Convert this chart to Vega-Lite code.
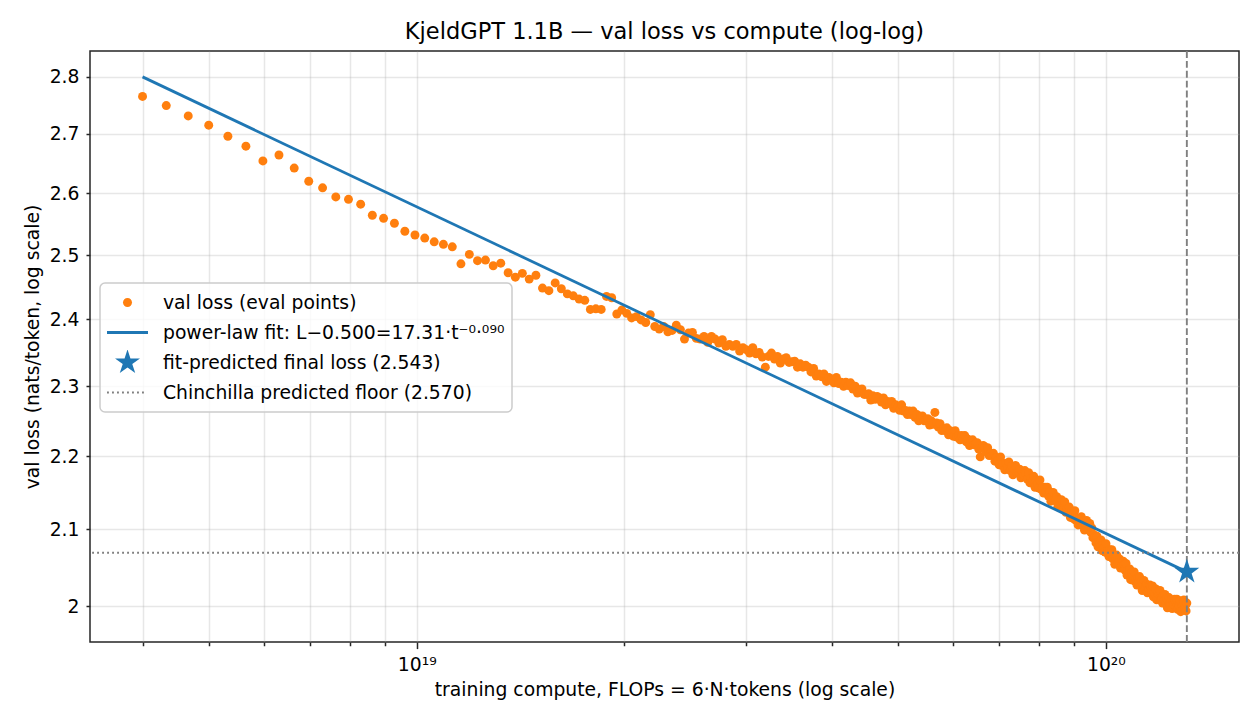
{
  "$schema": "https://vega.github.io/schema/vega-lite/v6.json",
  "width": 1149,
  "height": 591,
  "autosize": {"type": "none"},
  "padding": {"left": 90, "top": 51, "right": 21, "bottom": 86},
  "background": "white",
  "title": {
    "text": "KjeldGPT 1.1B — val loss vs compute (log-log)",
    "font": "DejaVu Sans", "fontSize": 22.5, "fontWeight": "normal", "color": "black",
    "baseline": "alphabetic", "offset": 11, "dy": 22
  },
  "config": {
    "font": "DejaVu Sans",
    "view": {"stroke": "#262626", "strokeWidth": 1.5},
    "axis": {
      "labelFont": "DejaVu Sans", "labelFontSize": 18.75, "labelColor": "black",
      "titleFont": "DejaVu Sans", "titleFontSize": 18.75, "titleFontWeight": "normal", "titleColor": "black",
      "domain": false, "tickColor": "#262626", "tickWidth": 1.5,
      "gridColor": "#b0b0b0", "gridOpacity": 0.3, "gridWidth": 1.5
    },
    "legend": {
      "fillColor": "rgba(255,255,255,0.8)", "strokeColor": "#cccccc", "strokeWidth": 1.5, "cornerRadius": 5,
      "padding": 7, "rowPadding": 5, "labelOffset": 15, "clipHeight": 25,
      "labelFont": "DejaVu Sans", "labelFontSize": 18.75, "labelColor": "black", "labelLimit": 600,
      "symbolSize": 1681, "symbolStrokeWidth": 0, "symbolOpacity": 1
    }
  },
  "layer": [
    {
      "data": {"values": [
        {"c":4.00e18,"l":2.765},{"c":4.33e18,"l":2.749},{"c":4.66e18,"l":2.731},{"c":4.99e18,"l":2.715},{"c":5.32e18,"l":2.696},
        {"c":5.65e18,"l":2.679},{"c":5.98e18,"l":2.654},{"c":6.31e18,"l":2.664},{"c":6.64e18,"l":2.642},{"c":6.97e18,"l":2.620},
        {"c":7.30e18,"l":2.609},{"c":7.63e18,"l":2.594},{"c":7.96e18,"l":2.590},{"c":8.29e18,"l":2.582},{"c":8.62e18,"l":2.564},
        {"c":8.95e18,"l":2.559},{"c":9.28e18,"l":2.551},{"c":9.61e18,"l":2.538},{"c":9.94e18,"l":2.532},{"c":10.27e18,"l":2.527},
        {"c":10.60e18,"l":2.521},{"c":10.93e18,"l":2.517},{"c":11.26e18,"l":2.513},{"c":11.59e18,"l":2.486},{"c":11.92e18,"l":2.501},
        {"c":12.25e18,"l":2.491},{"c":12.58e18,"l":2.492},{"c":12.91e18,"l":2.483},{"c":13.24e18,"l":2.487},{"c":13.57e18,"l":2.472},
        {"c":13.90e18,"l":2.465},{"c":14.23e18,"l":2.471},{"c":14.56e18,"l":2.462},{"c":14.89e18,"l":2.468},{"c":15.22e18,"l":2.448},
        {"c":15.55e18,"l":2.444},{"c":15.88e18,"l":2.456},{"c":16.21e18,"l":2.447},{"c":16.54e18,"l":2.439},{"c":16.87e18,"l":2.436},
        {"c":17.20e18,"l":2.431},{"c":17.53e18,"l":2.429},{"c":17.86e18,"l":2.415},{"c":18.19e18,"l":2.416},{"c":18.52e18,"l":2.415},
        {"c":18.85e18,"l":2.435},{"c":19.18e18,"l":2.433},{"c":19.51e18,"l":2.408},{"c":19.84e18,"l":2.414},{"c":20.17e18,"l":2.409},
        {"c":20.50e18,"l":2.402},{"c":20.83e18,"l":2.404},{"c":21.16e18,"l":2.399},{"c":21.49e18,"l":2.395},{"c":21.82e18,"l":2.407},
        {"c":22.15e18,"l":2.389},{"c":22.48e18,"l":2.385},{"c":22.81e18,"l":2.389},{"c":23.14e18,"l":2.381},{"c":23.47e18,"l":2.383},
        {"c":23.80e18,"l":2.391},{"c":24.13e18,"l":2.384},{"c":24.46e18,"l":2.370},{"c":24.79e18,"l":2.379},{"c":25.12e18,"l":2.380},
        {"c":25.45e18,"l":2.371},{"c":25.78e18,"l":2.370},{"c":26.11e18,"l":2.374},{"c":26.44e18,"l":2.365},{"c":26.77e18,"l":2.374},
        {"c":27.10e18,"l":2.370},{"c":27.43e18,"l":2.364},{"c":27.76e18,"l":2.369},{"c":28.09e18,"l":2.359},{"c":28.42e18,"l":2.362},
        {"c":28.75e18,"l":2.359},{"c":29.08e18,"l":2.362},{"c":29.41e18,"l":2.352},{"c":29.74e18,"l":2.357},{"c":30.07e18,"l":2.354},
        {"c":30.40e18,"l":2.349},{"c":30.73e18,"l":2.357},{"c":31.06e18,"l":2.348},{"c":31.39e18,"l":2.350},{"c":31.72e18,"l":2.343},
        {"c":32.05e18,"l":2.328},{"c":32.38e18,"l":2.344},{"c":32.71e18,"l":2.349},{"c":33.04e18,"l":2.340},{"c":33.37e18,"l":2.344},
        {"c":33.70e18,"l":2.334},{"c":34.03e18,"l":2.340},{"c":34.36e18,"l":2.342},{"c":34.69e18,"l":2.335},{"c":35.02e18,"l":2.336},
        {"c":35.35e18,"l":2.337},{"c":35.68e18,"l":2.328},{"c":36.01e18,"l":2.333},{"c":36.34e18,"l":2.328},{"c":36.67e18,"l":2.331},
        {"c":37.00e18,"l":2.328},{"c":37.33e18,"l":2.321},{"c":37.66e18,"l":2.326},{"c":37.99e18,"l":2.315},{"c":38.32e18,"l":2.318},
        {"c":38.65e18,"l":2.314},{"c":38.98e18,"l":2.318},{"c":39.31e18,"l":2.307},{"c":39.64e18,"l":2.313},{"c":39.97e18,"l":2.309},
        {"c":40.30e18,"l":2.305},{"c":40.63e18,"l":2.313},{"c":40.96e18,"l":2.304},{"c":41.29e18,"l":2.306},{"c":41.62e18,"l":2.300},
        {"c":41.95e18,"l":2.306},{"c":42.28e18,"l":2.301},{"c":42.61e18,"l":2.305},{"c":42.94e18,"l":2.296},{"c":43.27e18,"l":2.300},
        {"c":43.60e18,"l":2.290},{"c":43.93e18,"l":2.295},{"c":44.26e18,"l":2.296},{"c":44.59e18,"l":2.288},{"c":44.92e18,"l":2.288},
        {"c":45.25e18,"l":2.289},{"c":45.58e18,"l":2.280},{"c":45.91e18,"l":2.286},{"c":46.24e18,"l":2.281},{"c":46.57e18,"l":2.285},
        {"c":46.90e18,"l":2.283},{"c":47.23e18,"l":2.277},{"c":47.56e18,"l":2.283},{"c":47.89e18,"l":2.273},{"c":48.22e18,"l":2.278},
        {"c":48.55e18,"l":2.275},{"c":48.88e18,"l":2.278},{"c":49.21e18,"l":2.268},{"c":49.54e18,"l":2.273},{"c":49.87e18,"l":2.270},
        {"c":50.20e18,"l":2.265},{"c":50.53e18,"l":2.273},{"c":50.86e18,"l":2.264},{"c":51.19e18,"l":2.265},{"c":51.52e18,"l":2.259},
        {"c":51.85e18,"l":2.264},{"c":52.18e18,"l":2.259},{"c":52.51e18,"l":2.264},{"c":52.84e18,"l":2.255},{"c":53.17e18,"l":2.259},
        {"c":53.50e18,"l":2.250},{"c":53.83e18,"l":2.255},{"c":54.16e18,"l":2.257},{"c":54.49e18,"l":2.250},{"c":54.82e18,"l":2.251},
        {"c":55.15e18,"l":2.253},{"c":55.48e18,"l":2.244},{"c":55.81e18,"l":2.250},{"c":56.14e18,"l":2.245},{"c":56.47e18,"l":2.262},
        {"c":56.80e18,"l":2.247},{"c":57.13e18,"l":2.241},{"c":57.46e18,"l":2.246},{"c":57.79e18,"l":2.236},{"c":58.12e18,"l":2.239},
        {"c":58.45e18,"l":2.236},{"c":58.78e18,"l":2.240},{"c":59.11e18,"l":2.230},{"c":59.44e18,"l":2.236},{"c":59.77e18,"l":2.232},
        {"c":60.10e18,"l":2.228},{"c":60.43e18,"l":2.236},{"c":60.76e18,"l":2.227},{"c":61.09e18,"l":2.229},{"c":61.42e18,"l":2.223},
        {"c":61.75e18,"l":2.229},{"c":62.08e18,"l":2.224},{"c":62.41e18,"l":2.229},{"c":62.74e18,"l":2.220},{"c":63.07e18,"l":2.224},
        {"c":63.40e18,"l":2.215},{"c":63.73e18,"l":2.221},{"c":64.06e18,"l":2.223},{"c":64.39e18,"l":2.216},{"c":64.72e18,"l":2.217},
        {"c":65.05e18,"l":2.219},{"c":65.38e18,"l":2.210},{"c":65.71e18,"l":2.199},{"c":66.04e18,"l":2.211},{"c":66.37e18,"l":2.215},
        {"c":66.70e18,"l":2.213},{"c":67.03e18,"l":2.206},{"c":67.36e18,"l":2.212},{"c":67.69e18,"l":2.201},{"c":68.02e18,"l":2.204},
        {"c":68.35e18,"l":2.201},{"c":68.68e18,"l":2.204},{"c":69.01e18,"l":2.193},{"c":69.34e18,"l":2.198},{"c":69.67e18,"l":2.194},
        {"c":70.00e18,"l":2.188},{"c":70.33e18,"l":2.199},{"c":70.66e18,"l":2.187},{"c":70.99e18,"l":2.190},{"c":71.32e18,"l":2.181},
        {"c":71.65e18,"l":2.190},{"c":71.98e18,"l":2.184},{"c":72.31e18,"l":2.192},{"c":72.64e18,"l":2.180},{"c":72.97e18,"l":2.186},
        {"c":73.30e18,"l":2.174},{"c":73.63e18,"l":2.182},{"c":73.96e18,"l":2.187},{"c":74.29e18,"l":2.177},{"c":74.62e18,"l":2.179},
        {"c":74.95e18,"l":2.182},{"c":75.28e18,"l":2.170},{"c":75.61e18,"l":2.179},{"c":75.94e18,"l":2.174},{"c":76.27e18,"l":2.180},
        {"c":76.60e18,"l":2.176},{"c":76.93e18,"l":2.168},{"c":77.26e18,"l":2.177},{"c":77.59e18,"l":2.163},{"c":77.92e18,"l":2.169},
        {"c":78.25e18,"l":2.166},{"c":78.58e18,"l":2.172},{"c":78.91e18,"l":2.157},{"c":79.24e18,"l":2.166},{"c":79.57e18,"l":2.161},
        {"c":79.90e18,"l":2.156},{"c":80.23e18,"l":2.167},{"c":80.56e18,"l":2.154},{"c":80.89e18,"l":2.157},{"c":81.22e18,"l":2.149},
        {"c":81.55e18,"l":2.157},{"c":81.88e18,"l":2.151},{"c":82.21e18,"l":2.157},{"c":82.54e18,"l":2.145},{"c":82.87e18,"l":2.151},
        {"c":83.20e18,"l":2.138},{"c":83.53e18,"l":2.146},{"c":83.86e18,"l":2.150},{"c":84.19e18,"l":2.139},{"c":84.52e18,"l":2.141},
        {"c":84.85e18,"l":2.144},{"c":85.18e18,"l":2.131},{"c":85.51e18,"l":2.140},{"c":85.84e18,"l":2.134},{"c":86.17e18,"l":2.140},
        {"c":86.50e18,"l":2.137},{"c":86.83e18,"l":2.128},{"c":87.16e18,"l":2.137},{"c":87.49e18,"l":2.123},{"c":87.82e18,"l":2.128},
        {"c":88.15e18,"l":2.125},{"c":88.48e18,"l":2.130},{"c":88.81e18,"l":2.116},{"c":89.14e18,"l":2.124},{"c":89.47e18,"l":2.119},
        {"c":89.80e18,"l":2.114},{"c":90.13e18,"l":2.125},{"c":90.46e18,"l":2.112},{"c":90.79e18,"l":2.115},{"c":91.12e18,"l":2.106},
        {"c":91.45e18,"l":2.115},{"c":91.78e18,"l":2.109},{"c":92.11e18,"l":2.117},{"c":92.44e18,"l":2.105},{"c":92.77e18,"l":2.111},
        {"c":93.10e18,"l":2.099},{"c":93.43e18,"l":2.108},{"c":93.76e18,"l":2.112},{"c":94.09e18,"l":2.103},{"c":94.42e18,"l":2.105},
        {"c":94.75e18,"l":2.108},{"c":95.08e18,"l":2.096},{"c":95.41e18,"l":2.102},{"c":95.74e18,"l":2.089},{"c":96.07e18,"l":2.093},
        {"c":96.40e18,"l":2.090},{"c":96.73e18,"l":2.082},{"c":97.06e18,"l":2.091},{"c":97.39e18,"l":2.077},{"c":97.72e18,"l":2.084},
        {"c":98.05e18,"l":2.081},{"c":98.38e18,"l":2.086},{"c":98.71e18,"l":2.072},{"c":99.04e18,"l":2.080},{"c":99.37e18,"l":2.076},
        {"c":99.70e18,"l":2.070},{"c":100.03e18,"l":2.081},{"c":100.36e18,"l":2.069},{"c":100.69e18,"l":2.072},{"c":101.02e18,"l":2.064},
        {"c":101.35e18,"l":2.073},{"c":101.68e18,"l":2.066},{"c":102.01e18,"l":2.073},{"c":102.34e18,"l":2.061},{"c":102.67e18,"l":2.066},
        {"c":103.00e18,"l":2.054},{"c":103.33e18,"l":2.062},{"c":103.66e18,"l":2.066},{"c":103.99e18,"l":2.056},{"c":104.32e18,"l":2.058},
        {"c":104.65e18,"l":2.061},{"c":104.98e18,"l":2.049},{"c":105.31e18,"l":2.057},{"c":105.64e18,"l":2.052},{"c":105.97e18,"l":2.058},
        {"c":106.30e18,"l":2.054},{"c":106.63e18,"l":2.046},{"c":106.96e18,"l":2.055},{"c":107.29e18,"l":2.040},{"c":107.62e18,"l":2.046},
        {"c":107.95e18,"l":2.043},{"c":108.28e18,"l":2.048},{"c":108.61e18,"l":2.034},{"c":108.94e18,"l":2.043},{"c":109.27e18,"l":2.039},
        {"c":109.60e18,"l":2.033},{"c":109.93e18,"l":2.044},{"c":110.26e18,"l":2.032},{"c":110.59e18,"l":2.035},{"c":110.92e18,"l":2.027},
        {"c":111.25e18,"l":2.036},{"c":111.58e18,"l":2.030},{"c":111.91e18,"l":2.038},{"c":112.24e18,"l":2.026},{"c":112.57e18,"l":2.032},
        {"c":112.90e18,"l":2.020},{"c":113.23e18,"l":2.028},{"c":113.56e18,"l":2.033},{"c":113.89e18,"l":2.023},{"c":114.22e18,"l":2.025},
        {"c":114.55e18,"l":2.028},{"c":114.88e18,"l":2.017},{"c":115.21e18,"l":2.026},{"c":115.54e18,"l":2.021},{"c":115.87e18,"l":2.027},
        {"c":116.20e18,"l":2.025},{"c":116.53e18,"l":2.017},{"c":116.86e18,"l":2.026},{"c":117.19e18,"l":2.012},{"c":117.52e18,"l":2.018},
        {"c":117.85e18,"l":2.016},{"c":118.18e18,"l":2.022},{"c":118.51e18,"l":2.008},{"c":118.84e18,"l":2.017},{"c":119.17e18,"l":2.014},
        {"c":119.50e18,"l":2.009},{"c":119.83e18,"l":2.020},{"c":120.16e18,"l":2.008},{"c":120.49e18,"l":2.011},{"c":120.82e18,"l":2.004},
        {"c":121.15e18,"l":2.013},{"c":121.48e18,"l":2.007},{"c":121.81e18,"l":2.015},{"c":122.14e18,"l":2.003},{"c":122.47e18,"l":2.010},
        {"c":122.80e18,"l":1.998},{"c":123.13e18,"l":2.007},{"c":123.46e18,"l":2.011},{"c":123.79e18,"l":2.002},{"c":124.12e18,"l":2.004},
        {"c":124.45e18,"l":2.008},{"c":124.78e18,"l":1.997},{"c":125.11e18,"l":2.006},{"c":125.44e18,"l":2.002},{"c":125.77e18,"l":2.009},
        {"c":126.10e18,"l":2.007},{"c":126.43e18,"l":1.999},{"c":126.76e18,"l":2.009},{"c":127.09e18,"l":1.996},{"c":127.42e18,"l":2.003},
        {"c":127.75e18,"l":2.000},{"c":128.08e18,"l":2.007},{"c":128.41e18,"l":1.993},{"c":128.74e18,"l":2.003},{"c":129.07e18,"l":2.000},
        {"c":129.40e18,"l":1.996},{"c":129.73e18,"l":2.008},{"c":130.06e18,"l":1.997},{"c":130.39e18,"l":2.001},{"c":130.72e18,"l":1.994},
        {"c":131.05e18,"l":2.004}
      ]},
      "mark": {"type": "circle", "size": 80, "opacity": 1},
      "encoding": {
        "x": {
          "field": "c", "type": "quantitative",
          "scale": {"type": "log", "domain": [3.356e18, 1.56e20], "nice": false},
          "axis": {
            "title": "training compute, FLOPs = 6·N·tokens (log scale)",
            "values": [4e18, 5e18, 6e18, 7e18, 8e18, 9e18, 1e19, 2e19, 3e19, 4e19, 5e19, 6e19, 7e19, 8e19, 9e19, 1e20],
            "labelExpr": "datum.value === 1e19 ? '10¹⁹' : datum.value === 1e20 ? '10²⁰' : ''",
            "labelOverlap": false, "labelFlush": false,
            "tickSize": {"condition": {"test": "datum.value === 1e19 || datum.value === 1e20", "value": 6.6}, "value": 3.75},
            "labelPadding": 6.6, "titlePadding": 7, "grid": true
          }
        },
        "y": {
          "field": "l", "type": "quantitative",
          "scale": {"type": "log", "domain": [1.955, 2.846], "nice": false},
          "axis": {
            "title": "val loss (nats/token, log scale)",
            "values": [2, 2.1, 2.2, 2.3, 2.4, 2.5, 2.6, 2.7, 2.8],
            "format": ".1~f", "labelOverlap": false, "labelFlush": false,
            "tickSize": 4, "labelPadding": 7, "titlePadding": 7, "grid": true
          }
        },
        "color": {
          "datum": "val loss (eval points)",
          "scale": {
            "domain": ["val loss (eval points)", "power-law fit: L−0.500=17.31·t⁻⁰·⁰⁹⁰", "fit-predicted final loss (2.543)", "Chinchilla predicted floor (2.570)"],
            "range": ["#ff7f0e", "#1f77b4", "#1f77b4", "#808080"]
          },
          "legend": {"title": null, "orient": "none", "legendX": 10, "legendY": 232}
        }
      }
    },
    {
      "data": {"values": [{"c": 4.0e18, "l": 2.7996}, {"c": 1.3105e20, "l": 2.0441}]},
      "mark": {"type": "line", "strokeWidth": 2.8, "color": "#1f77b4"},
      "encoding": {
        "x": {"field": "c", "type": "quantitative", "scale": {"type": "log", "domain": [3.356e18, 1.56e20], "nice": false}},
        "y": {"field": "l", "type": "quantitative", "scale": {"type": "log", "domain": [1.955, 2.846], "nice": false}}
      }
    },
    {
      "data": {"values": [{"l": 2.069}]},
      "mark": {"type": "rule", "strokeWidth": 1.9, "strokeDash": [1.9, 3.1], "color": "#808080"},
      "encoding": {
        "y": {"field": "l", "type": "quantitative", "scale": {"type": "log", "domain": [1.955, 2.846], "nice": false}}
      }
    },
    {
      "data": {"values": [{"c": 1.3105e20}]},
      "mark": {"type": "rule", "strokeWidth": 1.9, "strokeDash": [6.9, 3], "color": "#808080"},
      "encoding": {
        "x": {"field": "c", "type": "quantitative", "scale": {"type": "log", "domain": [3.356e18, 1.56e20], "nice": false}}
      }
    },
    {
      "data": {"values": [{"c": 1.3105e20, "l": 2.0441}]},
      "mark": {"type": "point", "filled": true, "opacity": 1, "strokeWidth": 0, "size": 1676, "color": "#1f77b4"},
      "encoding": {
        "x": {"field": "c", "type": "quantitative", "scale": {"type": "log", "domain": [3.356e18, 1.56e20], "nice": false}},
        "y": {"field": "l", "type": "quantitative", "scale": {"type": "log", "domain": [1.955, 2.846], "nice": false}},
        "shape": {
          "datum": "fit-predicted final loss (2.543)",
          "scale": {
            "domain": ["val loss (eval points)", "power-law fit: L−0.500=17.31·t⁻⁰·⁰⁹⁰", "fit-predicted final loss (2.543)", "Chinchilla predicted floor (2.570)"],
            "range": [
              "M0.22,0A0.22,0.22,0,1,1,-0.22,0A0.22,0.22,0,1,1,0.22,0Z",
              "M-1,-0.068L1,-0.068L1,0.068L-1,0.068Z",
              "M0,-0.64L0.1437,-0.1978L0.6087,-0.1978L0.2325,0.0755L0.3762,0.5178L0,0.2445L-0.3762,0.5178L-0.2325,0.0755L-0.6087,-0.1978L-0.1437,-0.1978Z",
              "M-1,-0.046h0.093v0.093h-0.093ZM-0.756,-0.046h0.093v0.093h-0.093ZM-0.512,-0.046h0.093v0.093h-0.093ZM-0.268,-0.046h0.093v0.093h-0.093ZM-0.024,-0.046h0.093v0.093h-0.093ZM0.22,-0.046h0.093v0.093h-0.093ZM0.464,-0.046h0.093v0.093h-0.093ZM0.708,-0.046h0.093v0.093h-0.093Z"
            ]
          },
          "legend": {"title": null, "orient": "none", "legendX": 10, "legendY": 232}
        }
      }
    }
  ]
}
